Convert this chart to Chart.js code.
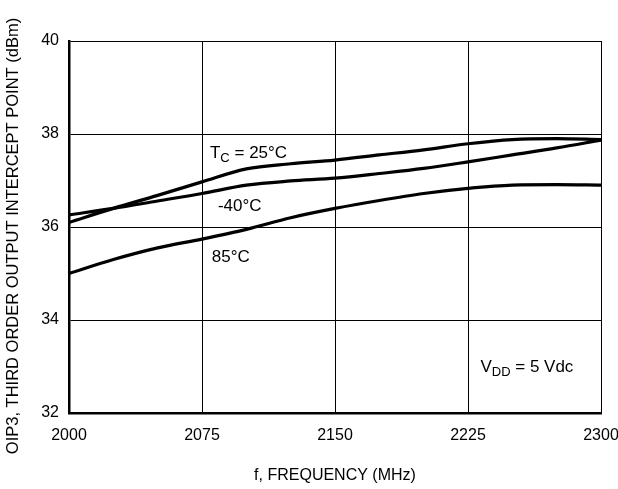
<!DOCTYPE html>
<html>
<head>
<meta charset="utf-8">
<script src="https://cdn.jsdelivr.net/npm/chart.js@4/dist/chart.umd.min.js"></script>
<style>
  html,body{margin:0;padding:0;background:#fff;}
  #wrap{width:618px;height:489px;position:relative;}
</style>
</head>
<body>
<div id="wrap"><canvas id="c"></canvas></div>
<script>
/* OIP3 vs frequency, three case temperatures */
var freqs   = [2000, 2025, 2050, 2075, 2100, 2125, 2150, 2175, 2200, 2225, 2250, 2275, 2300];
var oipT25  = [36.1, 36.4, 36.68, 36.97, 37.25, 37.36, 37.44, 37.55, 37.66, 37.79, 37.88, 37.9, 37.88];
var oipTm40 = [36.26, 36.4, 36.56, 36.72, 36.9, 36.99, 37.05, 37.15, 37.26, 37.4, 37.55, 37.7, 37.87];
var oipT85  = [35.0, 35.3, 35.55, 35.74, 35.95, 36.2, 36.4, 36.57, 36.72, 36.83, 36.9, 36.91, 36.9];
var xTicks  = [2000, 2075, 2150, 2225, 2300];
var yTicks  = [32, 34, 36, 38, 40];

var FONT = '"Liberation Sans", Arial, sans-serif';
var Y_TITLE = 'OIP3, THIRD ORDER OUTPUT INTERCEPT POINT (dBm)';

function pts(ys){
  return freqs.map(function(f, i){ return {x:f, y:ys[i]}; });
}
function line(ys){
  return {
    data: pts(ys),
    borderColor:'#000',
    borderWidth:3.2,
    pointRadius:0,
    fill:false,
    cubicInterpolationMode:'monotone'
  };
}

// Curve labels, anchored in data units (left edge, baseline)
var curveLabels = [
  {x:2079.5, y:37.49, main:'T', sub:'C', rest:' = 25°C'},
  {x:2084,   y:36.34, main:'-40°C'},
  {x:2080.5, y:35.25, main:'85°C'},
  {x:2232,   y:32.88, main:'V', sub:'DD', rest:' = 5 Vdc'}
];

var labelPlugin = {
  id:'curveLabels',
  afterDatasetsDraw:function(chart){
    var c = chart.ctx, xs = chart.scales.x, ys = chart.scales.y;
    c.save();
    c.fillStyle = '#000';
    c.textBaseline = 'alphabetic';
    curveLabels.forEach(function(l){
      var px = xs.getPixelForValue(l.x), py = ys.getPixelForValue(l.y);
      c.font = '17px ' + FONT;
      c.fillText(l.main, px, py);
      px += c.measureText(l.main).width;
      if(l.sub){
        c.font = '13px ' + FONT;
        c.fillText(l.sub, px, py + 4);
        px += c.measureText(l.sub).width;
        c.font = '17px ' + FONT;
        c.fillText(l.rest, px, py);
      }
    });
    // y title, a bit below the axis centre as in the original
    c.translate(13, (ys.top + ys.bottom) / 2 + 9);
    c.rotate(-Math.PI / 2);
    c.font = '16.5px ' + FONT;
    c.textAlign = 'center';
    c.textBaseline = 'middle';
    c.fillText(Y_TITLE, 0, 0);
    c.restore();
  }
};

new Chart(document.getElementById('c'), {
  type:'line',
  data:{ datasets:[line(oipT25), line(oipTm40), line(oipT85)] },
  options:{
    responsive:true,
    maintainAspectRatio:false,
    animation:false,
    layout:{ padding:{left:0, top:41, right:17, bottom:0} },
    plugins:{ legend:{display:false}, tooltip:{enabled:false} },
    scales:{
      x:{
        type:'linear', min:2000, max:2300,
        afterBuildTicks:function(s){ s.ticks = xTicks.map(function(v){ return {value:v}; }); },
        afterFit:function(s){ s.height = 76; s.paddingLeft = 0; s.paddingRight = 0; },
        grid:{ color:'#000', lineWidth:1, drawTicks:false },
        border:{ color:'#000', width:2.5 },
        ticks:{ color:'#000', padding:13, font:{family:FONT, size:16}, maxRotation:0,
                callback:function(v){ return String(v); } },
        title:{ display:true, text:'f, FREQUENCY (MHz)', color:'#000', font:{family:FONT, size:16}, padding:{top:8} }
      },
      y:{
        min:32, max:40,
        afterBuildTicks:function(s){ s.ticks = yTicks.map(function(v){ return {value:v}; }); },
        afterFit:function(s){ s.width = 69; s.paddingTop = 0; s.paddingBottom = 0; },
        grid:{ color:'#000', lineWidth:1, drawTicks:false },
        border:{ color:'#000', width:2.5 },
        ticks:{ color:'#000', padding:10, font:{family:FONT, size:16} },
        title:{ display:false }
      }
    }
  },
  plugins:[labelPlugin]
});
</script>
</body>
</html>
